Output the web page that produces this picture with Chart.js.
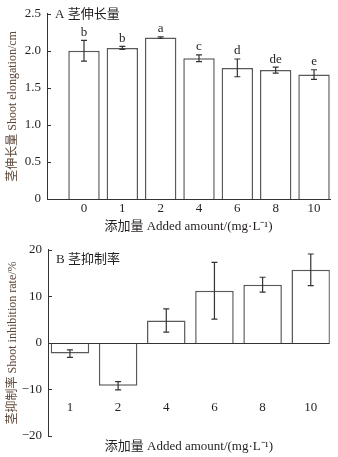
<!DOCTYPE html>
<html>
<head>
<meta charset="utf-8">
<script src="https://cdn.jsdelivr.net/npm/chart.js@4.4.1/dist/chart.umd.min.js"></script>
<style>
    body { margin: 0; background: #fff; }
    .painel { position: absolute; left: 0; width: 338px; }
</style>
</head>
<body>
<div class="painel" style="top:0;height:236px"><canvas id="graficoA"></canvas></div>
<div class="painel" style="top:236px;height:221px"><canvas id="graficoB"></canvas></div>
<script>
// A: shoot elongation
const dosesA = ['0', '1', '2', '4', '6', '8', '10'];
const alongamento = [2.00, 2.04, 2.18, 1.90, 1.77, 1.74, 1.68];
const alongamentoErro = [0.14, 0.02, 0.01, 0.045, 0.12, 0.04, 0.065];
const letras = ['b', 'b', 'a', 'c', 'd', 'de', 'e'];

// B: shoot inhibition rate
const dosesB = ['1', '2', '4', '6', '8', '10'];
const inibicao = [-2.3, -9.2, 4.8, 11.2, 12.5, 15.7];
const inibicaoErro = [0.8, 0.9, 2.5, 6.1, 1.6, 3.4];

const fonte = "'Liberation Serif', 'Noto Sans CJK SC', serif";
const corTexto = '#231f20';
const corTituloY = '#5c4536';

// error bars, letters, inward ticks and the panel label
const decoracao = {
    id: 'decoracao',
    afterDatasetsDraw(chart, args, opts) {
        const ctx = chart.ctx;
        const y = chart.scales.y;
        const area = chart.chartArea;
        const barras = chart.getDatasetMeta(0).data;
        ctx.save();

        if (opts.linhaZero) {
            ctx.strokeStyle = '#333';
            ctx.lineWidth = 1;
            const y0 = Math.round(y.getPixelForValue(0)) + 0.5;
            ctx.beginPath();
            ctx.moveTo(area.left, y0);
            ctx.lineTo(area.right, y0);
            ctx.stroke();
        }

        ctx.strokeStyle = '#333';
        ctx.lineWidth = 1.2;
        ctx.fillStyle = corTexto;
        ctx.font = '13px ' + fonte;
        ctx.textAlign = 'center';
        ctx.textBaseline = 'alphabetic';
        for (let i = 0; i < barras.length; i++) {
            const x = barras[i].x;
            const alto = y.getPixelForValue(opts.valores[i] + opts.erros[i]);
            const baixo = y.getPixelForValue(opts.valores[i] - opts.erros[i]);
            ctx.beginPath();
            ctx.moveTo(x, alto);
            ctx.lineTo(x, baixo);
            ctx.moveTo(x - 3, alto);
            ctx.lineTo(x + 3, alto);
            ctx.moveTo(x - 3, baixo);
            ctx.lineTo(x + 3, baixo);
            ctx.stroke();
            if (opts.letras) {
                ctx.fillText(opts.letras[i], x, alto - 4.5);
            }
        }

        // ticks pointing into the plot
        ctx.lineWidth = 1;
        ctx.beginPath();
        y.ticks.forEach(t => {
            const py = Math.round(y.getPixelForValue(t.value)) + 0.5;
            ctx.moveTo(area.left, py);
            ctx.lineTo(area.left + 4, py);
        });
        ctx.stroke();

        ctx.textAlign = 'left';
        ctx.textBaseline = 'middle';
        ctx.fillText(opts.rotulo, area.left + 8, area.top + opts.rotuloDy);
        ctx.restore();
    }
};

// espelho: labels drawn inside the plot (panel B puts them above the bottom edge)
function eixoX(doses, min, max, padding, espelho, titulo, tituloPad, altura, borda) {
    return {
        type: 'linear',
        min: min,
        max: max,
        offset: false,
        afterBuildTicks: s => { s.ticks = doses.map((d, i) => ({ value: i })); },
        afterFit: s => { s.height = altura; },
        grid: { display: false, drawTicks: false, offset: false },
        border: { display: borda, color: '#333', width: 1 },
        ticks: {
            padding: padding,
            mirror: espelho,
            autoSkip: false,
            maxRotation: 0,
            color: corTexto,
            font: { family: fonte, size: 13 },
            callback: v => doses[v]
        },
        title: {
            display: true,
            text: titulo,
            color: corTexto,
            font: { family: fonte, size: 13 },
            padding: { top: 0, bottom: tituloPad }
        }
    };
}

function eixoY(min, max, passo, titulo, largura, formato) {
    return {
        min: min,
        max: max,
        afterFit: s => { s.width = largura; },
        grid: { display: false, drawTicks: false },
        border: { display: true, color: '#333', width: 1 },
        ticks: {
            stepSize: passo,
            padding: 6,
            color: corTexto,
            font: { family: fonte, size: 13 },
            callback: formato
        },
        title: {
            display: true,
            text: titulo,
            color: corTituloY,
            font: { family: fonte, size: 12 },
            padding: { top: 5.3, bottom: 0 }
        }
    };
}

function plotarA() {
    new Chart(document.getElementById('graficoA'), {
        type: 'bar',
        data: {
            datasets: [{
                data: alongamento.map((v, i) => ({ x: i, y: v })),
                backgroundColor: '#fff',
                borderColor: '#5a5a5a',
                borderWidth: 1.5,
                categoryPercentage: 1,
                barPercentage: 0.82
            }]
        },
        options: {
            responsive: true,
            maintainAspectRatio: false,
            animation: false,
            layout: { padding: { left: 0, right: 8, top: 12, bottom: 0 } },
            scales: {
                x: eixoX(dosesA, -0.965, 6.417, 2, false, '添加量 Added amount/(mg·L⁻¹)', 1.8, 37, true),
                y: eixoY(0, 2.5, 0.5, '茎伸长量 Shoot elongation/cm', 47,
                    v => v === 0 ? '0' : v.toFixed(1))
            },
            plugins: {
                legend: { display: false },
                tooltip: { enabled: false },
                decoracao: {
                    valores: alongamento,
                    erros: alongamentoErro,
                    letras: letras,
                    rotulo: 'A 茎伸长量',
                    rotuloDy: 1,
                    linhaZero: false
                }
            }
        },
        plugins: [decoracao]
    });
}

function plotarB() {
    new Chart(document.getElementById('graficoB'), {
        type: 'bar',
        data: {
            datasets: [{
                data: inibicao.map((v, i) => ({ x: i, y: v })),
                backgroundColor: '#fff',
                borderColor: '#5a5a5a',
                borderWidth: 1.5,
                categoryPercentage: 1,
                barPercentage: 0.8
            }]
        },
        options: {
            responsive: true,
            maintainAspectRatio: false,
            animation: false,
            layout: { padding: { left: 0, right: 8, top: 11.3, bottom: 0 } },
            scales: {
                x: eixoX(dosesB, -0.456, 5.394, 20.2, true, '添加量 Added amount/(mg·L⁻¹)', 2.5, 21, false),
                y: eixoY(-20, 20, 10, '茎抑制率 Shoot inhibition rate/%', 48,
                    v => v < 0 ? '−' + Math.abs(v) : String(v))
            },
            plugins: {
                legend: { display: false },
                tooltip: { enabled: false },
                decoracao: {
                    valores: inibicao,
                    erros: inibicaoErro,
                    rotulo: 'B 茎抑制率',
                    rotuloDy: 9.5,
                    linhaZero: true
                }
            }
        },
        plugins: [decoracao]
    });
}

plotarA();
plotarB();
</script>
</body>
</html>
